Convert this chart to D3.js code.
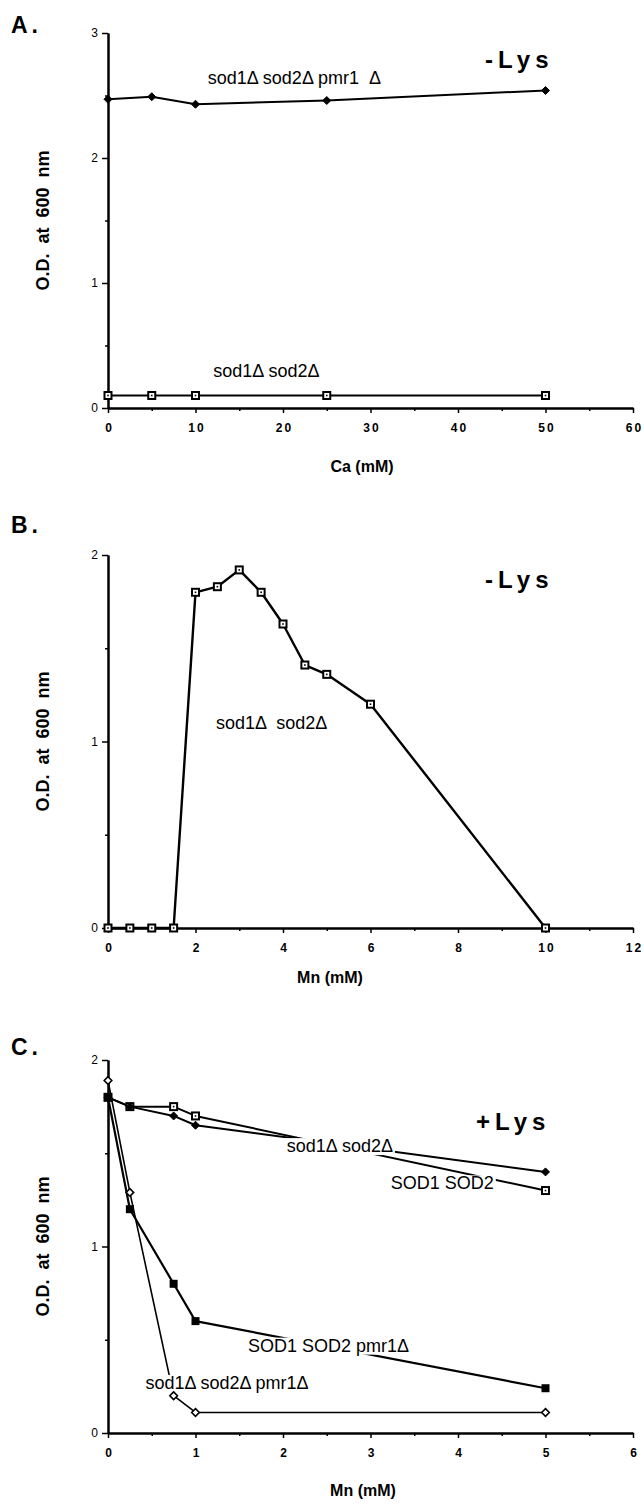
<!DOCTYPE html>
<html>
<head>
<meta charset="utf-8">
<script src="https://cdn.jsdelivr.net/npm/d3@7"></script>
<style>
  body { margin: 0; background: #fff; }
  svg { display: block; font-family: "Liberation Sans", Arial, Helvetica, sans-serif; }
</style>
</head>
<body>
<svg width="644" height="1504"></svg>
<script>
// panel A: Ca titration, -Lys
const caA = [0, 5, 10, 25, 50];
const odPmrA = [2.47, 2.49, 2.43, 2.46, 2.54]; // sod1Δ sod2Δ pmr1Δ
const odSodA = [0.1, 0.1, 0.1, 0.1, 0.1];      // sod1Δ sod2Δ

// panel B: Mn titration, -Lys
const mnB = [0, 0.5, 1, 1.5, 2, 2.5, 3, 3.5, 4, 4.5, 5, 6, 10];
const odB = [0, 0, 0, 0, 1.8, 1.83, 1.92, 1.8, 1.63, 1.41, 1.36, 1.2, 0];

// panel C: Mn titration, +Lys
const mnC = [0, 0.25, 0.75, 1, 5];
const odSodC = [1.8, 1.75, 1.7, 1.65, 1.4];      // sod1Δ sod2Δ
const odWtC = [1.8, 1.75, 1.75, 1.7, 1.3];       // SOD1 SOD2
const odWtPmrC = [1.8, 1.2, 0.8, 0.6, 0.24];     // SOD1 SOD2 pmr1Δ
const odSodPmrC = [1.89, 1.29, 0.2, 0.11, 0.11]; // sod1Δ sod2Δ pmr1Δ

const svg = d3.select("svg");
const yTitle = "O.D.  at  600  nm";
const fmt = d3.format("d");

function drawAxes(x, y, xTicks, xMinor, yTicks, yMinor) {
  const g = svg.append("g");
  const y0 = y.range()[0], x0 = x.range()[0];
  g.append("g").attr("transform", `translate(0,${y0})`)
    .call(d3.axisBottom(x).tickValues(xMinor).tickSize(3).tickSizeOuter(0).tickFormat(""));
  const xa = g.append("g").attr("transform", `translate(0,${y0})`)
    .call(d3.axisBottom(x).tickValues(xTicks).tickSize(5).tickPadding(10).tickSizeOuter(0).tickFormat(fmt));
  xa.selectAll("text").attr("font-size", 12).attr("font-weight", "bold").attr("letter-spacing", 2)
    .attr("dx", 1);
  g.append("g").attr("transform", `translate(${x0},0)`)
    .call(d3.axisLeft(y).tickValues(yMinor).tickSize(3).tickSizeOuter(0).tickFormat(""));
  const ya = g.append("g").attr("transform", `translate(${x0},0)`)
    .call(d3.axisLeft(y).tickValues(yTicks).tickSize(6).tickPadding(4).tickSizeOuter(0).tickFormat(fmt));
  ya.selectAll("text").attr("font-size", 12);
  g.selectAll("path.domain").attr("stroke", "#000").attr("stroke-width", 2);
  g.selectAll(".tick line").attr("stroke", "#000").attr("stroke-width", 1.5);
  g.selectAll(".tick text").attr("fill", "#000").attr("font-family", null);
  // y title
  const ym = (y.range()[0] + y.range()[1]) / 2;
  svg.append("text").attr("transform", `translate(49,${ym}) rotate(-90)`)
    .attr("text-anchor", "middle").attr("font-size", 18).attr("font-weight", "bold")
    .style("white-space", "pre")
    .text(yTitle);
}

function drawLine(x, y, xs, ys, w) {
  svg.append("path")
    .datum(xs.map((d, i) => [d, ys[i]]))
    .attr("fill", "none").attr("stroke", "#000").attr("stroke-width", w || 2)
    .attr("stroke-linejoin", "round")
    .attr("d", d3.line().x(d => x(d[0])).y(d => y(d[1])));
}

function drawMarks(x, y, xs, ys, kind) {
  const g = svg.append("g");
  xs.forEach((d, i) => {
    const cx = x(d), cy = y(ys[i]);
    if (kind === "diamond" || kind === "odiamond") {
      const r = kind === "diamond" ? 4 : 3.8;
      g.append("path")
        .attr("d", `M${cx},${cy - r}L${cx + r},${cy}L${cx},${cy + r}L${cx - r},${cy}Z`)
        .attr("fill", kind === "diamond" ? "#000" : "#fff")
        .attr("stroke", "#000").attr("stroke-width", kind === "diamond" ? 1 : 1.6);
    } else if (kind === "square") {
      g.append("rect").attr("x", cx - 4).attr("y", cy - 4).attr("width", 8).attr("height", 8)
        .attr("fill", "#000");
    } else {
      g.append("rect").attr("x", cx - 3.5).attr("y", cy - 3.5).attr("width", 7).attr("height", 7)
        .attr("fill", "#fff").attr("stroke", "#000").attr("stroke-width", 2);
      g.append("rect").attr("x", cx - 0.8).attr("y", cy - 0.8).attr("width", 1.6).attr("height", 1.6)
        .attr("fill", "#000");
    }
  });
}

function label(x, y, vx, vy, txt, opts) {
  opts = opts || {};
  const t = svg.append("text")
    .attr("x", x(vx)).attr("y", y(vy)).attr("dy", "0.35em")
    .attr("text-anchor", "middle")
    .attr("font-size", opts.size || 18)
    .attr("font-weight", opts.bold ? "bold" : null)
    .attr("letter-spacing", opts.spacing || null)
    .style("white-space", "pre")
    .text(txt);
  if (opts.mask) {
    const b = t.node().getBBox();
    svg.insert("rect", () => t.node())
      .attr("x", b.x - 2).attr("y", b.y + 2).attr("width", b.width + 4).attr("height", b.height - 3)
      .attr("fill", "#fff");
  }
  return t;
}

function panelLetter(txt, py) {
  svg.append("text").attr("x", 11).attr("y", py)
    .attr("font-size", 23).attr("font-weight", "bold").attr("letter-spacing", 4)
    .text(txt);
}

function xTitle(txt, px, py) {
  svg.append("text").attr("x", px).attr("y", py).attr("dy", "0.35em")
    .attr("text-anchor", "middle").attr("font-size", 16).attr("font-weight", "bold")
    .text(txt);
}

const lys = { size: 24, bold: true, spacing: 5 };

// ---------- A ----------
const xA = d3.scaleLinear().domain([0, 60]).range([108, 633]);
const yA = d3.scaleLinear().domain([0, 3]).range([408, 33]);
panelLetter("A.", 33);
drawAxes(xA, yA, d3.range(0, 61, 10), d3.range(5, 60, 10), [0, 1, 2, 3], [0.5, 1.5, 2.5]);
drawLine(xA, yA, caA, odPmrA);
drawLine(xA, yA, caA, odSodA);
drawMarks(xA, yA, caA, odPmrA, "diamond");
drawMarks(xA, yA, caA, odSodA, "osquare");
label(xA, yA, 21.3, 2.64, "sod1Δ sod2Δ pmr1  Δ");
label(xA, yA, 18.1, 0.3, "sod1Δ sod2Δ");
label(xA, yA, 47, 2.79, "-Lys", lys);
xTitle("Ca (mM)", 362, 466);

// ---------- B ----------
const xB = d3.scaleLinear().domain([0, 12]).range([108, 633]);
const yB = d3.scaleLinear().domain([0, 2]).range([928, 555]);
panelLetter("B.", 533);
drawAxes(xB, yB, d3.range(0, 13, 2), d3.range(1, 12, 2), [0, 1, 2], [0.5, 1.5]);
drawLine(xB, yB, mnB, odB, 2.4);
drawMarks(xB, yB, mnB, odB, "osquare");
label(xB, yB, 3.74, 1.1, "sod1Δ  sod2Δ");
label(xB, yB, 9.4, 1.87, "-Lys", lys);
xTitle("Mn (mM)", 330, 977);

// ---------- C ----------
const xC = d3.scaleLinear().domain([0, 6]).range([108, 633]);
const yC = d3.scaleLinear().domain([0, 2]).range([1433, 1060]);
panelLetter("C.", 1055);
drawAxes(xC, yC, d3.range(0, 7, 1), d3.range(0.5, 6, 1), [0, 1, 2], [0.5, 1.5]);
drawLine(xC, yC, mnC, odSodC);
drawLine(xC, yC, mnC, odWtC);
drawLine(xC, yC, mnC, odWtPmrC, 2.2);
drawLine(xC, yC, mnC, odSodPmrC, 1.6);
label(xC, yC, 2.65, 1.54, "sod1Δ sod2Δ", { mask: true });
label(xC, yC, 3.82, 1.34, "SOD1 SOD2", { mask: true });
label(xC, yC, 2.52, 0.47, "SOD1 SOD2 pmr1Δ", { mask: true });
label(xC, yC, 1.36, 0.27, "sod1Δ sod2Δ pmr1Δ", { mask: true });
label(xC, yC, 4.63, 1.67, "+Lys", lys);
drawMarks(xC, yC, mnC, odWtC, "osquare");
drawMarks(xC, yC, mnC, odSodC, "diamond");
drawMarks(xC, yC, mnC, odWtPmrC, "square");
drawMarks(xC, yC, mnC, odSodPmrC, "odiamond");
xTitle("Mn (mM)", 363, 1490);
</script>
</body>
</html>
